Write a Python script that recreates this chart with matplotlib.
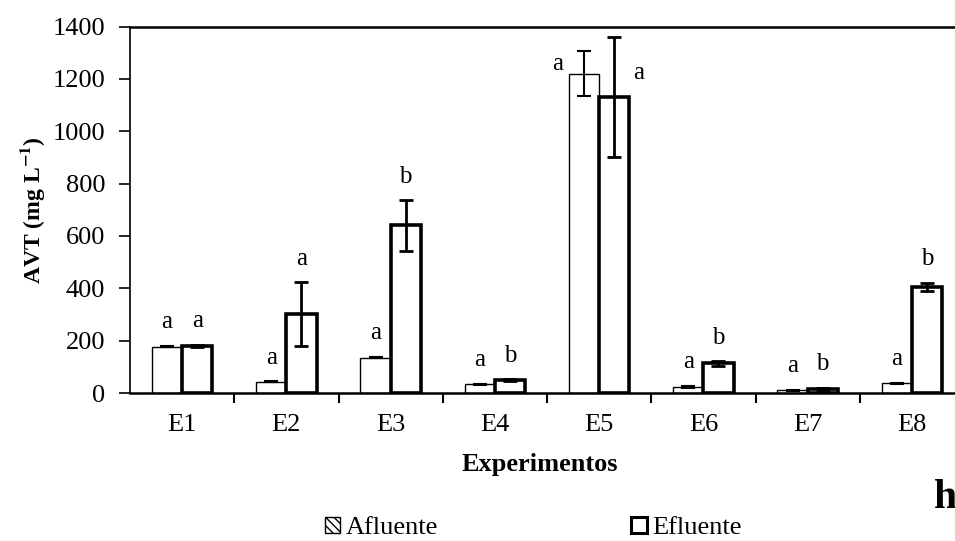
"""
AVT por experimento: afluente vs efluente, com desvio padrão e letras de significância.
"""

import matplotlib
matplotlib.use('Agg')
import matplotlib.pyplot as plt
import matplotlib.ticker as ticker
from matplotlib.patches import Patch
import numpy as np


experimentos = ["E1", "E2", "E3", "E4", "E5", "E6", "E7", "E8"]

afluente = [177, 43, 135, 34, 1219, 24, 11, 37]
afluente_sd = [3, 2, 3, 2, 86, 4, 2, 2]
efluente = [180, 302, 640, 50, 1131, 113, 16, 406]
efluente_sd = [5, 121, 96, 3, 230, 8, 3, 15]

letras_af = ["a", "a", "a", "a", "a", "a", "a", "a"]
letras_ef = ["a", "a", "b", "b", "a", "b", "b", "b"]

FS = 19

plt.rcParams['font.family'] = ['Liberation Serif', 'DejaVu Serif']
plt.rcParams['mathtext.fontset'] = 'stix'

fig = plt.figure(figsize=(9.55, 5.41), dpi=100)
# the plot area runs a bit past the right edge of the figure
ax = fig.add_axes([130 / 955, 148 / 541, 834 / 955, 366.5 / 541])

x = np.arange(len(experimentos))
w = 0.29

ax.bar(x - w / 2, afluente, w, color='white', edgecolor='black', linewidth=1.0,
       zorder=2)
ax.bar(x + w / 2, efluente, w, color='white', edgecolor='black', linewidth=2.6,
       zorder=2)
ax.errorbar(x - w / 2, afluente, yerr=afluente_sd, fmt='none', ecolor='black',
            elinewidth=1.5, capsize=5, capthick=1.5, zorder=3)
ax.errorbar(x + w / 2, efluente, yerr=efluente_sd, fmt='none', ecolor='black',
            elinewidth=2.0, capsize=5, capthick=2.0, zorder=3)

# significance letters above each bar (E5 sits beside its bars)
for i in range(len(experimentos)):
    if experimentos[i] == "E5":
        ax.annotate(letras_af[i], (x[i] - w, afluente[i]), xytext=(-8, 7),
                    textcoords='offset points', ha='center', va='center', fontsize=18)
        ax.annotate(letras_ef[i], (x[i] + w, efluente[i]), xytext=(7, 17),
                    textcoords='offset points', ha='center', va='center', fontsize=18)
        continue
    top_af = afluente[i] + afluente_sd[i]
    top_ef = efluente[i] + efluente_sd[i]
    ax.annotate(letras_af[i], (x[i] - w / 2, top_af), xytext=(0, 17),
                textcoords='offset points', ha='center', va='center', fontsize=18)
    ax.annotate(letras_ef[i], (x[i] + w / 2, top_ef), xytext=(0, 17),
                textcoords='offset points', ha='center', va='center', fontsize=18)

ax.set_xlim(-0.5, len(experimentos) - 0.5)
ax.set_ylim(0, 1400)
ax.yaxis.set_major_locator(ticker.MultipleLocator(200))

ax.set_xticks(x)
ax.set_xticklabels(experimentos)
ax.set_xticks(np.arange(0.5, len(experimentos) - 0.5, 1), minor=True)
ax.tick_params(axis='x', which='major', length=0, pad=15, labelsize=FS)
ax.tick_params(axis='x', which='minor', length=7, width=1.5, direction='out')
ax.tick_params(axis='y', which='major', length=8, width=1.2, direction='out',
               labelsize=FS, pad=10)

ax.spines['right'].set_visible(False)
ax.spines['top'].set_linewidth(1.8)
ax.spines['bottom'].set_linewidth(1.8)
ax.spines['left'].set_linewidth(1.2)

ax.set_ylabel('AVT (mg L$^{\\mathbf{-1}}$)', fontsize=17, fontweight='bold',
              labelpad=4)
fig.text(540 / 955, 1 - 465 / 541, 'Experimentos', fontsize=FS,
         fontweight='bold', ha='center', va='center')
fig.text(945 / 955, 1 - 498 / 541, 'h', fontsize=30, fontweight='bold',
         ha='center', va='center')

handles = [
    Patch(facecolor='white', edgecolor='black', linewidth=1.0, hatch='\\\\\\\\'),
    Patch(facecolor='white', edgecolor='black', linewidth=2.2),
]
fig.legend(handles, ['Afluente', 'Efluente'], loc='center',
           bbox_to_anchor=(533 / 955, 1 - 528 / 541), ncol=2, frameon=False,
           fontsize=FS, handlelength=0.6, handleheight=0.6, handletextpad=0.2,
           columnspacing=7.3, borderaxespad=0)

plt.savefig('out.png', dpi=100)
plt.close()
